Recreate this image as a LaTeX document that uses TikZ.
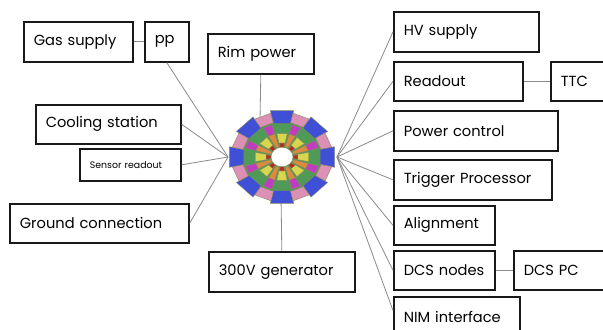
\documentclass[tikz,border=0pt]{standalone}
\usepackage{fontspec}
\setmainfont{Poppins}
\usetikzlibrary{calc}
\definecolor{segblue}{HTML}{3F4FD6}
\definecolor{seggreen}{HTML}{4F9A57}
\definecolor{segpink}{HTML}{DC90B6}
\definecolor{segmag}{HTML}{C03CC0}
\definecolor{segyel}{HTML}{D8D64C}
\definecolor{segorg}{HTML}{DD8A3E}
\definecolor{segred}{HTML}{B42A20}
\definecolor{segline}{HTML}{8A8A5E}
\definecolor{wire}{HTML}{8C8C8C}
\begin{document}
\begin{tikzpicture}[x=0.03cm,y=-0.03cm,
  cell/.style={draw=black!90, line width=1.4pt, fill=white, anchor=north west,
    inner xsep=0.3cm, inner ysep=0pt, align=left,
    font=\fontsize{12.5}{14}\selectfont},
  wirel/.style={draw=wire, line width=0.7pt},
  seg/.style={draw=segline, line width=0.35pt}]
\useasboundingbox (0,0) rectangle (603,330);
\clip (0,0) rectangle (603,330);

% left-hand boxes
\node[cell, minimum width=3.27cm, text width=2.67cm, minimum height=1.2cm] (gas) at (23,21) {Gas supply};
\node[cell, minimum width=1.32cm, text width=0.72cm, minimum height=1.2cm] (pp) at (144,21) {pp};
\node[cell, minimum width=3.18cm, text width=2.58cm, minimum height=1.2cm] (rim) at (207,33) {Rim power};
\node[cell, minimum width=4.35cm, text width=3.75cm, minimum height=1.17cm] (cool) at (35,104) {Cooling station};
\node[cell, minimum width=3.03cm, text width=2.43cm, minimum height=0.96cm, font=\fontsize{8}{9}\selectfont] (sensor) at (79,148) {Sensor readout};
\node[cell, minimum width=5.37cm, text width=4.77cm, minimum height=1.17cm] (ground) at (9,203) {Ground connection};
\node[cell, minimum width=4.38cm, text width=3.78cm, minimum height=1.2cm] (gen) at (208,251) {300V generator};

% right-hand boxes
\node[cell, minimum width=4.35cm, text width=3.75cm, minimum height=1.2cm] (hv) at (393,11) {HV supply};
\node[cell, minimum width=3.87cm, text width=3.27cm, minimum height=1.17cm] (readout) at (393,61) {Readout};
\node[cell, minimum width=3.0cm, text width=2.4cm, minimum height=1.17cm] (ttc) at (550,61) {TTC};
\node[cell, minimum width=4.92cm, text width=4.32cm, minimum height=1.2cm] (power) at (393,110) {Power control};
\node[cell, minimum width=4.74cm, text width=4.14cm, minimum height=1.2cm] (trigger) at (393,159) {Trigger Processor};
\node[cell, minimum width=3.03cm, text width=2.43cm, minimum height=1.17cm] (align) at (393,205) {Alignment};
\node[cell, minimum width=3.03cm, text width=2.43cm, minimum height=1.17cm] (dcsn) at (393,250) {DCS nodes};
\node[cell, minimum width=3.0cm, text width=2.4cm, minimum height=1.17cm] (dcspc) at (513,250) {DCS PC};
\node[cell, minimum width=3.78cm, text width=3.18cm, minimum height=1.2cm] (nim) at (393,296) {NIM interface};

% hubs on the detector wheel
\coordinate (hubL) at (228,157);
\coordinate (hubR) at (337,157);
\coordinate (rimEnd) at (260,120);
\coordinate (genEnd) at (281,195);

% connectors
\draw[wirel] (gas.east) -- (pp.west);
\draw[wirel] (readout.east) -- (ttc.west);
\draw[wirel] (dcsn.east) -- (dcspc.west);
\draw[wirel] (pp.south) -- (hubL);
\draw[wirel] (cool.east) -- (hubL);
\draw[wirel] (sensor.east) -- (hubL);
\draw[wirel] (ground.east) -- (hubL);
\draw[wirel] (rim.south) -- (rimEnd);
\draw[wirel] (gen.north) -- (genEnd);
\draw[wirel] (hubR) -- (hv.west);
\draw[wirel] (hubR) -- (readout.west);
\draw[wirel] (hubR) -- (power.west);
\draw[wirel] (hubR) -- (trigger.west);
\draw[wirel] (hubR) -- (align.west);
\draw[wirel] (hubR) -- (dcsn.west);
\draw[wirel] (hubR) -- ($(nim.north west)!0.35!(nim.south west)$);

% detector wheel: 16 sectors
\begin{scope}[shift={(282,157)}, yscale=0.88]
  \fill[seggreen, draw=segline, line width=0.35pt]
    (11.25:50) \foreach \a in {33.75,56.25,...,351} { -- (\a:50) } -- cycle;
  \foreach \k in {0,...,7} {
    \pgfmathsetmacro{\b}{90+45*\k}
    \pgfmathsetmacro{\p}{\b+22.5}
    % outer modules
    \filldraw[seg, fill=segblue] (\b-12.5:39) -- (\b-12.5:54) -- (\b+12.5:54) -- (\b+12.5:39) -- cycle;
    \filldraw[seg, fill=segpink] (\p-10:40) -- (\p-10:51) -- (\p+10:51) -- (\p+10:40) -- cycle;
    % middle ring
    \filldraw[seg, fill=segmag] (\p-7:27) -- (\p-7:38) -- (\p+7:38) -- (\p+7:27) -- cycle;
    \filldraw[seg, fill=segyel] (\b-11:16) -- (\b-11:27) -- (\b+11:27) -- (\b+11:16) -- cycle;
    \filldraw[seg, fill=segorg] (\p-7:12) -- (\p-7:27) -- (\p+7:27) -- (\p+7:12) -- cycle;
    % inner ring
    \filldraw[seg, fill=segred] (\b-9:11) -- (\b-9:16) -- (\b+9:16) -- (\b+9:11) -- cycle;
  }
  \filldraw[fill=white, draw=segline, line width=0.35pt] (0,0) circle (11);
\end{scope}
\end{tikzpicture}
\end{document}
